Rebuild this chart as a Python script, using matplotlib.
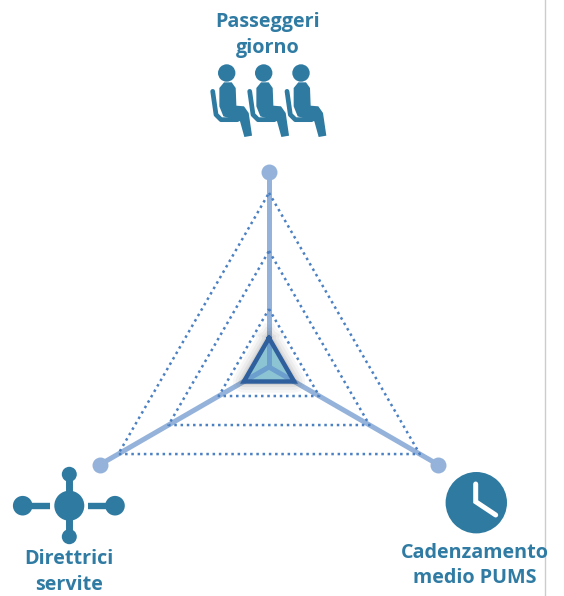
import numpy as np
import matplotlib
matplotlib.use("Agg")
import matplotlib.pyplot as plt
from matplotlib.patches import Circle, Polygon

W, H = 564, 596

# radar data: one value per axis, clockwise from the top
axis_names = ["Passeggeri\ngiorno", "Cadenzamento\nmedio PUMS", "Direttrici\nservite"]
axis_angles = [90, 330, 210]
ring_levels = [1, 2, 3]
values = [0.5, 0.5, 0.5]
r_max = 3.36

TEXT = "#2f7ba3"
ICON = "#2e7aa1"
SPOKE = "#95b3da"
DOTS = "#4b80c2"
EDGE = "#2f5f9c"
FILL = "#8cc4d4"

plt.rcParams["font.family"] = ["Open Sans", "DejaVu Sans"]
fig = plt.figure(figsize=(W / 100, H / 100), dpi=100)

# overlay in pixel coordinates for the icons and labels
ov = fig.add_axes([0, 0, 1, 1], zorder=3)
ov.set_xlim(0, W)
ov.set_ylim(H, 0)
ov.axis("off")
ov.patch.set_alpha(0)

# radar, centred at (269, 367) with 195 px radius
cx, cy, R = 269, 367, 195
ax = fig.add_axes([(cx - R) / W, (H - cy - R) / H, 2 * R / W, 2 * R / H], projection="polar", zorder=2)
ax.set_ylim(0, r_max)
ax.axis("off")
ax.patch.set_alpha(0)
theta = np.deg2rad(axis_angles)


def closed(a):
    return list(a) + [a[0]]


for t in theta:
    ax.plot([t, t], [0, r_max], color=SPOKE, lw=3.6, solid_capstyle="butt", zorder=2, clip_on=False)
    ax.plot([t], [r_max], "o", color=SPOKE, ms=11.5, mew=0, zorder=2, clip_on=False)

for lev in ring_levels:
    ax.plot(closed(theta), closed([lev] * 3), color=DOTS, lw=1.8, ls=(0, (1, 1.5)), zorder=3)

# soft shadow under the value triangle
for lw, a in [(16, 0.05), (12, 0.06), (8, 0.08), (5, 0.10)]:
    ax.plot(closed(theta), closed(values), color="#555555", lw=lw, alpha=a, solid_joinstyle="round", zorder=4)
ax.fill(theta, values, color=FILL, lw=0, zorder=5)
for t, v in zip(theta, values):
    ax.plot([t, t], [0, v], color="#6c9fce", lw=3.6, solid_capstyle="butt", zorder=6)
ax.plot(closed(theta), closed(values), color=EDGE, lw=3.2, solid_joinstyle="miter", zorder=7)

# right border
ov.plot([545, 545], [0, H], color="#cccccc", lw=1)

# people icon, offsets from the head centre
torso = np.array([(-22, 45), (-8, 28), (15, 28), (27, 45), (29, 98), (52, 100), (66, 120), (76, 188),
                  (53, 192), (40, 145), (-10, 130), (-22, 100)]) / 3
seat = np.array([(-42, 55), (-32, 125), (-17, 140), (32, 140)]) / 3
for hx in [226.7, 263.7, 301]:
    hy = 73
    ov.add_patch(Circle((hx, hy), 8.7, color=ICON, lw=0))
    ov.add_patch(Polygon(torso + (hx, hy), closed=True, color=ICON, lw=0))
    ov.plot(seat[:, 0] + hx, seat[:, 1] + hy, color=ICON, lw=3.4, solid_capstyle="round", solid_joinstyle="round")

# hub icon
hub_x, hub_y = 69.3, 505.7
for dx, dy, r in [(-46.6, 0, 9.8), (45.7, 0, 9.8), (0, -31.4, 7.5), (0, 31, 7.5)]:
    ov.add_patch(Circle((hub_x + dx, hub_y + dy), r, color=ICON, lw=0))
ov.plot([hub_x - 46, hub_x - 19], [hub_y, hub_y], color=ICON, lw=4.6, solid_capstyle="butt")
ov.plot([hub_x + 19, hub_x + 45], [hub_y, hub_y], color=ICON, lw=4.6, solid_capstyle="butt")
ov.plot([hub_x, hub_x], [hub_y - 31, hub_y + 31], color=ICON, lw=5, solid_capstyle="butt")
ov.add_patch(Circle((hub_x, hub_y), 15, color=ICON, lw=0))

# clock icon
ov.add_patch(Circle((476.3, 502.7), 30.7, color=ICON, lw=0))
ov.plot([475.7, 475.7, 495.7], [484, 501.7, 515], color="white", lw=3.6, solid_capstyle="round", solid_joinstyle="miter")

# labels
label_pos = [(268, 35), (475, 565.5), (69, 572)]
for name, (x, y) in zip(axis_names, label_pos):
    ov.text(x, y, name, color=TEXT, fontsize=14.2, fontweight="bold", ha="center", va="center", linespacing=1.38)

fig.savefig("out.png", dpi=100)
